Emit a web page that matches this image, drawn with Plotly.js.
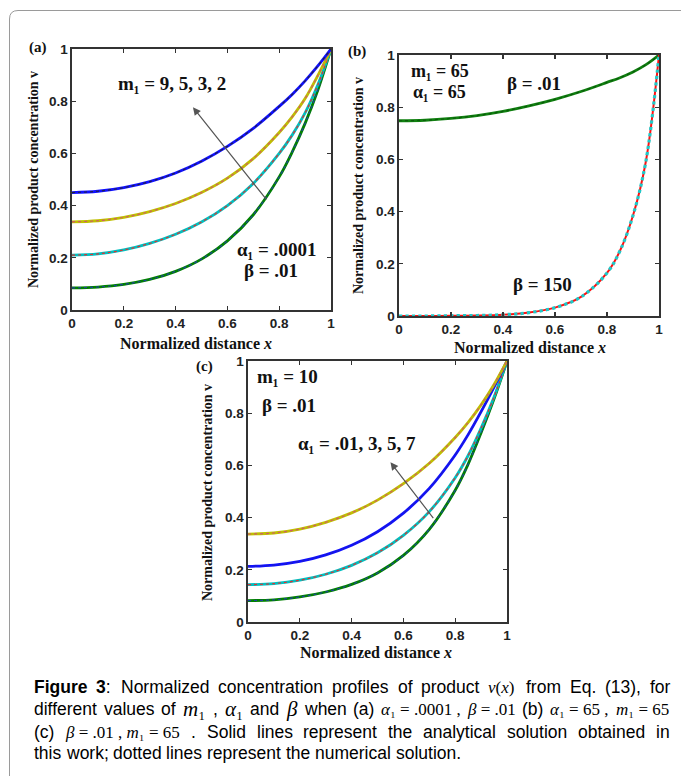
<!DOCTYPE html>
<html>
<head>
<meta charset="utf-8">
<script src="https://cdn.plot.ly/plotly-3.0.1.min.js"></script>
<style>html,body{margin:0;padding:0;background:#fff;}#chart{width:681px;height:776px;}</style>
</head>
<body>
<div id="chart"></div>
<script>
// ---------- data ----------
const xDist = [0, 0.1, 0.2, 0.3, 0.4, 0.5, 0.6, 0.7, 0.8, 0.85, 0.9, 0.95, 1];

// (a) alpha1 = .0001, beta = .01, m1 = 2, 3, 5, 9
const a_m2 = [0.45, 0.455, 0.469, 0.492, 0.525, 0.57, 0.627, 0.696, 0.78, 0.826, 0.878, 0.936, 1];
const a_m3 = [0.338, 0.342, 0.355, 0.377, 0.408, 0.45, 0.505, 0.58, 0.68, 0.74, 0.81, 0.9, 1];
const a_m5 = [0.21, 0.215, 0.23, 0.255, 0.29, 0.337, 0.4, 0.485, 0.6, 0.67, 0.755, 0.865, 1];
const a_m9 = [0.085, 0.088, 0.098, 0.117, 0.148, 0.195, 0.265, 0.365, 0.51, 0.605, 0.715, 0.845, 1];

// (b) m1 = 65, alpha1 = 65, beta = .01 and 150
const b_beta001 = [0.748, 0.75, 0.757, 0.768, 0.784, 0.805, 0.83, 0.86, 0.895, 0.913, 0.935, 0.963, 1];
const b_beta150 = [0, 0, 0.001, 0.002, 0.005, 0.013, 0.032, 0.073, 0.165, 0.25, 0.385, 0.595, 1];

// (c) m1 = 10, beta = .01, alpha1 = .01, 3, 5, 7
const c_yellow = [0.337, 0.341, 0.356, 0.382, 0.418, 0.467, 0.53, 0.608, 0.707, 0.765, 0.832, 0.91, 1];
const c_blue   = [0.213, 0.218, 0.232, 0.257, 0.294, 0.346, 0.417, 0.512, 0.64, 0.718, 0.806, 0.9, 1];
const c_cyan   = [0.143, 0.147, 0.16, 0.183, 0.217, 0.265, 0.332, 0.423, 0.553, 0.638, 0.743, 0.862, 1];
const c_green  = [0.082, 0.085, 0.096, 0.115, 0.144, 0.188, 0.255, 0.355, 0.505, 0.605, 0.725, 0.855, 1];

const tickVals = [0, 0.2, 0.4, 0.6, 0.8, 1];
const tickLabels = ['0', '0.2', '0.4', '0.6', '0.8', '1'];

// ---------- helpers ----------
const W = 681, H = 776;
const px = v => v / W;
const py = v => 1 - v / H;

const SERIF = 'Liberation Serif, Times New Roman, serif';
const SANS = 'Liberation Sans, Arial, sans-serif';

function axis(domain, anchor) {
  return {
    domain: domain, anchor: anchor, range: [0, 1],
    tickmode: 'array', tickvals: tickVals, ticktext: tickLabels,
    ticks: 'inside', ticklen: 4, tickwidth: 1.2, tickcolor: '#333',
    showline: true, mirror: 'ticks', linecolor: '#333', linewidth: 1.6,
    showgrid: false, zeroline: false, fixedrange: true,
    tickfont: {family: SANS, size: 13.5, weight: 'bold', color: '#222'}
  };
}

const traces = [];
function curve(xa, ya, y, color, dotColor, w, dotW) {
  traces.push({x: xDist, y: y, xaxis: xa, yaxis: ya, mode: 'lines', type: 'scatter',
    line: {color: color, width: w || 2.8, shape: 'spline', smoothing: 1}, hoverinfo: 'skip'});
  traces.push({x: xDist, y: y, xaxis: xa, yaxis: ya, mode: 'lines', type: 'scatter',
    line: {color: dotColor, width: dotW || 1.2, dash: 'dot', shape: 'spline', smoothing: 1}, hoverinfo: 'skip'});
}

// (a)
curve('x', 'y', a_m9, '#008000', '#1f3fa0');
curve('x', 'y', a_m5, '#00bfbf', '#e03030');
curve('x', 'y', a_m3, '#bfbf00', '#d05a6a');
curve('x', 'y', a_m2, '#1010ff', '#222244');
// (b)
curve('x2', 'y2', b_beta001, '#108010', '#0a5a0a');
curve('x2', 'y2', b_beta150, '#ff1010', '#20c8c8', 2.0, 3.2);
// (c)
curve('x3', 'y3', c_green, '#008000', '#1f3fa0');
curve('x3', 'y3', c_cyan, '#00bfbf', '#e03030');
curve('x3', 'y3', c_blue, '#1010ff', '#2020c0');
curve('x3', 'y3', c_yellow, '#bfbf00', '#d05a6a');

const ann = [];
function txt(xref, yref, x, y, text, size, extra) {
  ann.push(Object.assign({xref: xref, yref: yref, x: x, y: y, text: text, showarrow: false,
    font: {family: SERIF, size: size, color: '#111', weight: 'bold'}, xanchor: 'center', yanchor: 'middle'}, extra || {}));
}
function arrow(xr, yr, hx, hy, tx, ty) {
  ann.push({xref: xr, yref: yr, axref: xr, ayref: yr, x: hx, y: hy, ax: tx, ay: ty, text: ' ',
    font: {family: SERIF, size: 10, color: '#555'},
    showarrow: true, arrowhead: 2, arrowsize: 1.3, arrowwidth: 1.2, arrowcolor: '#555'});
}

// panel letters
txt('paper', 'paper', px(38), py(47), '(a)', 15);
txt('paper', 'paper', px(357), py(52), '(b)', 15);
txt('paper', 'paper', px(204), py(366), '(c)', 15);

// axis titles
const yTitle = 'Normalized product concentration v';
const xTitle = 'Normalized distance <i>x</i>';
txt('paper', 'paper', px(33), py(180), yTitle, 14, {textangle: -90});
txt('paper', 'paper', px(358), py(186), yTitle, 14, {textangle: -90});
txt('paper', 'paper', px(207), py(492), yTitle, 14, {textangle: -90});
txt('paper', 'paper', px(196), py(343), xTitle, 16);
txt('paper', 'paper', px(530), py(347), xTitle, 16);
txt('paper', 'paper', px(376), py(652), xTitle, 16);

// in-plot labels (a)
txt('x', 'y', 0.385, 0.868, 'm₁ = 9, 5, 3, 2', 19);
txt('x', 'y', 0.79, 0.23, 'α₁ = .0001', 19);
txt('x', 'y', 0.77, 0.153, 'β = .01', 19);
arrow('x', 'y', 0.467, 0.777, 0.762, 0.409);
// (b)
txt('x2', 'y2', 0.156, 0.94, 'm₁ = 65', 18);
txt('x2', 'y2', 0.156, 0.858, 'α₁ = 65', 18);
txt('x2', 'y2', 0.52, 0.89, 'β = .01', 19);
txt('x2', 'y2', 0.55, 0.12, 'β = 150', 19);
// (c)
txt('x3', 'y3', 0.154, 0.94, 'm₁ = 10', 19);
txt('x3', 'y3', 0.16, 0.83, 'β = .01', 19);
txt('x3', 'y3', 0.42, 0.685, 'α₁ = .01, 3, 5, 7', 19);
arrow('x3', 'y3', 0.55, 0.612, 0.727, 0.383);

// ---------- caption (justified word by word) ----------
const fontSpec = {
  s:  {fam: "'Liberation Sans'", famP: SANS, size: 17.5, w: 'normal', st: 'normal'},
  sb: {fam: "'Liberation Sans'", famP: SANS, size: 17.5, w: 'bold', st: 'normal'},
  m:  {fam: "'Liberation Serif'", famP: SERIF, size: 17, w: 'normal', st: 'normal'},
  M:  {fam: "'Liberation Serif'", famP: SERIF, size: 21, w: 'normal', st: 'normal'}
};
const cv = document.createElement('canvas').getContext('2d');
function measure(html, kind) {
  const f = fontSpec[kind];
  const t = html.replace(/<[^>]+>/g, '');
  cv.font = f.st + ' ' + f.w + ' ' + f.size + 'px ' + f.fam;
  return cv.measureText(t).width;
}
const capLines = [
  {y: 687, justify: true, toks: [['<b>Figure</b>', 'sb'], ['<b>3</b>:', 'sb'], ['Normalized', 's'], ['concentration', 's'],
    ['profiles', 's'], ['of', 's'], ['product', 's'], ['<i>v</i>(<i>x</i>)', 'm'], ['from', 's'], ['Eq.', 's'], ['(13),', 's'], ['for', 's']]},
  {y: 709, justify: true, toks: [['different', 's'], ['values', 's'], ['of', 's'], ['<i>m</i>₁', 'M'], [',', 's'],
    ['<i>α</i>₁', 'M'], ['and', 's'], ['<i>β</i>', 'M'], ['when', 's'], ['(a)', 's'], ['<i>α</i>₁ = .0001 ,', 'm'],
    ['<i>β</i> = .01', 'm'], ['(b)', 's'], ['<i>α</i>₁ = 65 ,', 'm'], ['<i>m</i>₁ = 65', 'm']]},
  {y: 732, justify: true, toks: [['(c)', 's'], ['<i>β</i> = .01 , <i>m</i>₁ = 65', 'm'], ['.', 's'], ['Solid', 's'], ['lines', 's'],
    ['represent', 's'], ['the', 's'], ['analytical', 's'], ['solution', 's'], ['obtained', 's'], ['in', 's']]},
  {y: 753, justify: false, toks: [['this', 's'], ['work;', 's'], ['dotted', 's'], ['lines', 's'], ['represent', 's'], ['the', 's'],
    ['numerical', 's'], ['solution.', 's']]}
];
const capLeft = 33, capRight = 669;
capLines.forEach(line => {
  const widths = line.toks.map(t => measure(t[0], t[1]));
  const sum = widths.reduce((a, b) => a + b, 0);
  cv.font = 'normal normal ' + fontSpec.s.size + 'px ' + fontSpec.s.fam;
  const gap = line.justify ? (capRight - capLeft - sum) / (line.toks.length - 1) : cv.measureText(' ').width;
  let pos = capLeft;
  line.toks.forEach((t, i) => {
    const f = fontSpec[t[1]];
    ann.push({xref: 'paper', yref: 'paper', x: px(pos), y: py(line.y), xanchor: 'left', yanchor: 'middle',
      text: t[0], showarrow: false, borderpad: 0,
      font: {family: f.famP, size: f.size, color: '#000'}});
    pos += widths[i] + gap;
  });
});

// ---------- layout ----------
const layout = {
  width: W, height: H, margin: {l: 0, r: 0, t: 0, b: 0},
  paper_bgcolor: '#fff', plot_bgcolor: '#fff', showlegend: false,
  xaxis: axis([px(72), px(331)], 'y'),
  yaxis: axis([py(310), py(49)], 'x'),
  xaxis2: axis([px(399), px(659)], 'y2'),
  yaxis2: axis([py(316), py(55)], 'x2'),
  xaxis3: axis([px(248), px(507)], 'y3'),
  yaxis3: axis([py(622), py(361)], 'x3'),
  annotations: ann,
  shapes: [{type: 'path', xref: 'paper', yref: 'paper',
    path: 'M ' + px(9.5) + ',' + py(800) + ' L ' + px(9.5) + ',' + py(19) + ' Q ' + px(9.5) + ',' + py(10.5) + ' ' + px(18) + ',' + py(10.5) + ' L ' + px(700) + ',' + py(10.5),
    line: {color: '#9a9a9a', width: 1}}]
};

Plotly.newPlot('chart', traces, layout, {staticPlot: true, displayModeBar: false});
</script>
</body>
</html>
